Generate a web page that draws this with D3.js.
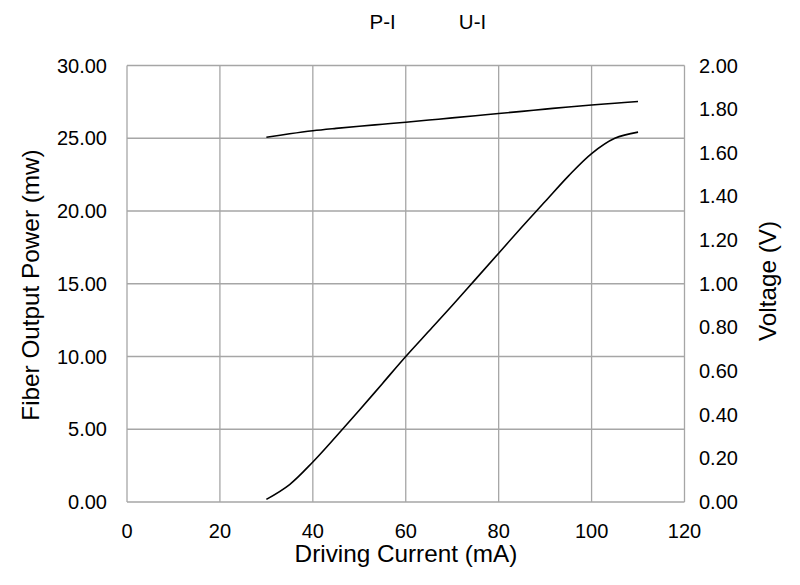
<!DOCTYPE html>
<html><head><meta charset="utf-8">
<script src="https://cdn.jsdelivr.net/npm/d3@7"></script>
<style>body{margin:0;background:#fff}svg{display:block}text{font-family:"Liberation Sans",Arial,sans-serif;fill:#000}</style>
</head><body><svg id="c" width="800" height="585"></svg>
<script>
const current = [30,35,40,45,50,55,60,65,70,75,80,85,90,95,100,105,110];
const power = [0.18,1.2,2.75,4.5,6.3,8.15,10.0,11.75,13.5,15.3,17.1,18.9,20.65,22.4,23.95,25.0,25.42];
const voltage = [1.671,1.687,1.701,1.712,1.722,1.731,1.740,1.750,1.760,1.770,1.780,1.790,1.800,1.810,1.819,1.827,1.835];
const xTicks = [0,20,40,60,80,100,120];
const yLeftTicks = [0,5,10,15,20,25,30];
const yRightTicks = [0,0.2,0.4,0.6,0.8,1.0,1.2,1.4,1.6,1.8,2.0];
const legendLabels = ["P-I","U-I"];

const svg = d3.select("#c");
const L=127,R=684.5,T=65.5,B=502;
const x = d3.scaleLinear().domain([0,120]).range([L,R]);
const yL = d3.scaleLinear().domain([0,30]).range([B,T]);
const yR = d3.scaleLinear().domain([0,2]).range([B,T]);
const grid="#a6a6a6";
svg.append("g").selectAll("line").data(xTicks).join("line")
  .attr("x1",d=>x(d)).attr("x2",d=>x(d)).attr("y1",T).attr("y2",B)
  .attr("stroke",grid).attr("stroke-width",1.3);
svg.append("g").selectAll("line").data(yLeftTicks).join("line")
  .attr("x1",L).attr("x2",R).attr("y1",d=>yL(d)).attr("y2",d=>yL(d))
  .attr("stroke",grid).attr("stroke-width",1.3);
svg.append("g").selectAll("text").data(xTicks).join("text")
  .attr("x",d=>x(d)).attr("y",538).attr("text-anchor","middle")
  .attr("font-size",20).text(d=>d);
svg.append("g").selectAll("text").data(yLeftTicks).join("text")
  .attr("x",107).attr("y",d=>yL(d)+7).attr("text-anchor","end")
  .attr("font-size",20).text(d=>d.toFixed(2));
svg.append("g").selectAll("text").data(yRightTicks).join("text")
  .attr("x",699).attr("y",d=>yR(d)+7).attr("text-anchor","start")
  .attr("font-size",20).text(d=>d.toFixed(2));
svg.append("text").attr("x",406).attr("y",562).attr("text-anchor","middle").attr("font-size",24.3).text("Driving Current (mA)");
svg.append("text").attr("transform","translate(39,285) rotate(-90)").attr("text-anchor","middle").attr("font-size",24.3).text("Fiber Output Power (mw)");
svg.append("text").attr("transform","translate(776,281) rotate(-90)").attr("text-anchor","middle").attr("font-size",24.3).text("Voltage (V)");
svg.append("g").selectAll("text").data(legendLabels).join("text")
  .attr("x",(d,i)=>382.7+i*89.8).attr("y",29).attr("text-anchor","middle").attr("font-size",20.5).text(d=>d);
const pts = current.map((c,i)=>({c,p:power[i],v:voltage[i]}));
svg.append("path").datum(pts).attr("fill","none").attr("stroke","#000").attr("stroke-width",1.6)
  .attr("d",d3.line().x(d=>x(d.c)).y(d=>yL(d.p)).curve(d3.curveCatmullRom.alpha(0.5)));
svg.append("path").datum(pts).attr("fill","none").attr("stroke","#000").attr("stroke-width",1.6)
  .attr("d",d3.line().x(d=>x(d.c)).y(d=>yR(d.v)).curve(d3.curveCatmullRom.alpha(0.5)));
</script></body></html>
